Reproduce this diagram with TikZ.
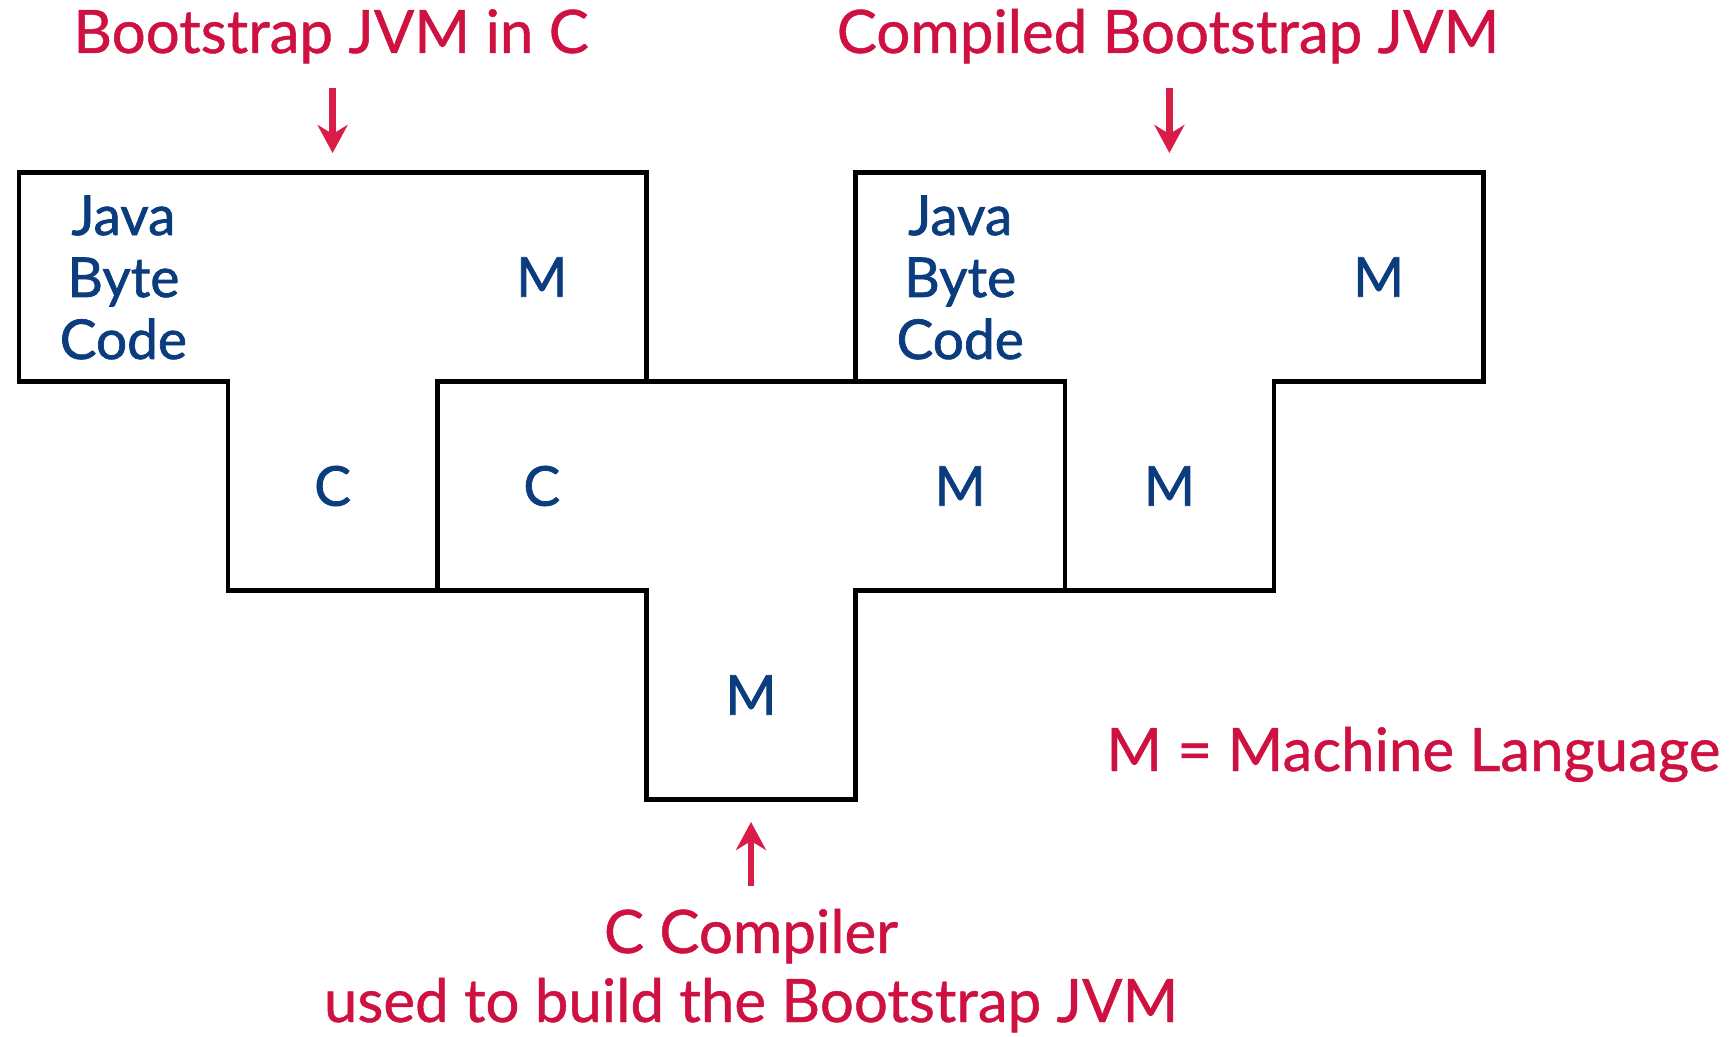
\documentclass[tikz,border=0pt]{standalone}
\usepackage{fontspec}
\setmainfont{Lato}[FakeBold=0.8]
\newfontfamily\bluefont{Lato}[FakeBold=1.3]
\usetikzlibrary{arrows.meta}
\definecolor{jred}{HTML}{CE1141}
\definecolor{jarrow}{HTML}{DA1C48}
\definecolor{jblue}{HTML}{0B3C7D}
\begin{document}
\begin{tikzpicture}[x=0.5pt,y=-0.5pt,
  outline/.style={draw=black,line width=2.3pt,line join=miter},
  lbl/.style={text=jblue,font=\bluefont\fontsize{27.5}{31}\selectfont,inner sep=0pt},
  ttl/.style={text=jred,font=\fontsize{30}{34.5}\selectfont,inner sep=0pt,align=center},
  redarrow/.style={draw=jarrow,line width=3.2pt,-{Stealth[width=15pt,length=14pt,inset=4.5pt]}}]
\useasboundingbox (0,0) rectangle (1734,1037);
% three T-diagrams
\draw[outline] (18.8,172.5) -- (646.4,172.5) -- (646.4,381.5) -- (437.2,381.5) -- (437.2,590.5) -- (228,590.5) -- (228,381.5) -- (18.8,381.5) -- cycle;
\draw[outline] (437.2,381.5) -- (1064.8,381.5) -- (1064.8,590.5) -- (855.6,590.5) -- (855.6,799.5) -- (646.4,799.5) -- (646.4,590.5) -- (437.2,590.5) -- cycle;
\draw[outline] (855.6,172.5) -- (1483.2,172.5) -- (1483.2,381.5) -- (1274,381.5) -- (1274,590.5) -- (1064.8,590.5) -- (1064.8,381.5) -- (855.6,381.5) -- cycle;
% labels in the cells (base anchor = last line of a multi-line node)
\node[lbl,align=center,anchor=base] (jbc1) at (123.4,359) {Java\\Byte\\Code};
\node[lbl] (m1) at (541.8,277) {M};
\node[lbl] (c1) at (332.6,486) {C};
\node[lbl] (c2) at (541.8,486) {C};
\node[lbl] (m2) at (960.2,486) {M};
\node[lbl] (m3) at (751,695) {M};
\node[lbl,align=center,anchor=base] (jbc2) at (960.2,359) {Java\\Byte\\Code};
\node[lbl] (m4) at (1378.6,277) {M};
\node[lbl] (m5) at (1169.4,486) {M};
% red titles
\node[ttl,anchor=base] (t1) at (331,53) {Bootstrap JVM in C};
\node[ttl,anchor=base] (t2) at (1168,53) {Compiled Bootstrap JVM};
\node[ttl,anchor=base] (t3) at (751,1022) {C Compiler\\used to build the Bootstrap JVM};
\node[ttl,anchor=base west] (leg) at (1106,771) {M = Machine Language};
% arrows
\coordinate (a1s) at (332.6,88);
\coordinate (a1e) at (332.6,153);
\coordinate (a2s) at (1169.4,88);
\coordinate (a2e) at (1169.4,153);
\coordinate (a3s) at (751,886);
\coordinate (a3e) at (751,822);
\draw[redarrow] (a1s) -- (a1e);
\draw[redarrow] (a2s) -- (a2e);
\draw[redarrow] (a3s) -- (a3e);
\end{tikzpicture}
\end{document}
